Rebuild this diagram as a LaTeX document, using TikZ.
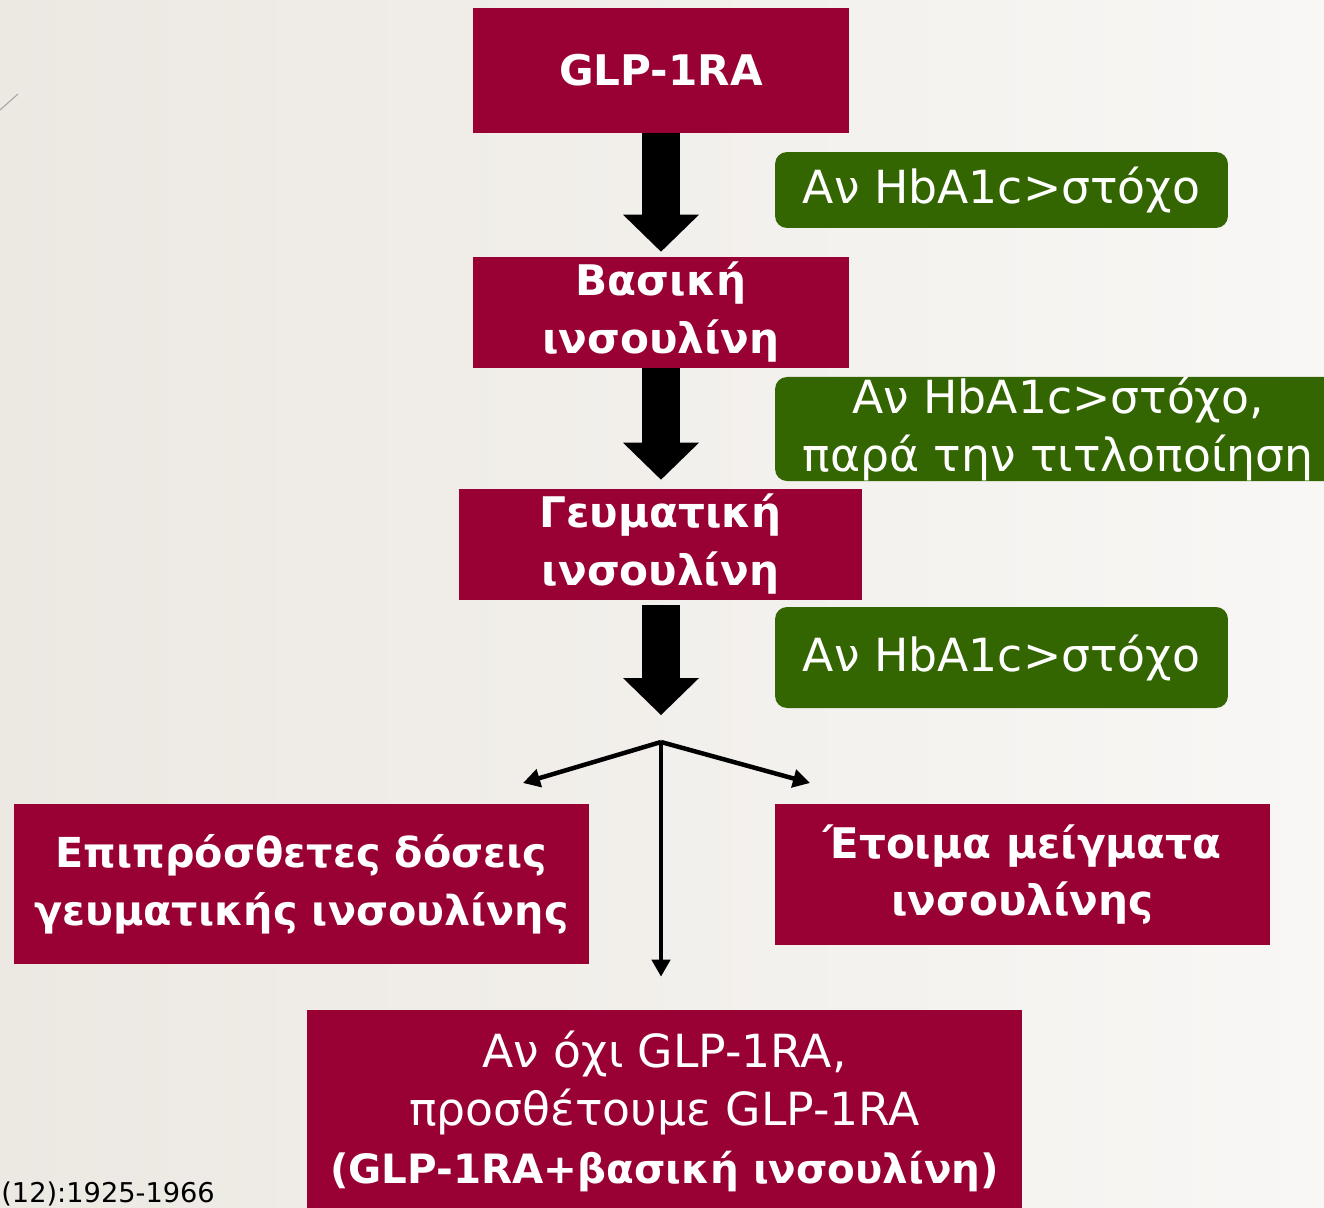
\documentclass[tikz,border=0pt]{standalone}
\usepackage{fontspec}
\setmainfont{DejaVu Sans}
\usetikzlibrary{arrows.meta}
\definecolor{wine}{HTML}{990033}
\definecolor{leaf}{HTML}{336600}
\definecolor{paperl}{HTML}{ECE8E2}
\definecolor{paperr}{HTML}{F8F7F5}

\begin{document}
\begin{tikzpicture}[x=0.02cm,y=-0.02cm,
    redbox/.style={fill=wine,text=white,align=center,inner sep=0pt,
      font=\bfseries\fontsize{24}{33}\selectfont},
    greenbox/.style={fill=leaf,text=white,align=center,inner sep=0pt,
      rounded corners=0.24cm,font=\fontsize{26}{33}\selectfont},
    fatarrow/.style={line width=0.76cm,
      -{Triangle[length=0.74cm,width=1.52cm,line width=0pt]}},
    thinarrow/.style={line width=0.09cm,
      -{Triangle[length=0.34cm,width=0.36cm]}}]
    \useasboundingbox (0,0) rectangle (1324,1207);
    \clip (0,0) rectangle (1324,1207);
    \shade[left color=paperl,right color=paperr] (0,0) rectangle (1324,1207);
    \draw[gray!70,line width=0.6pt] (0,110) -- (18,94);

    \node[redbox,minimum width=7.52cm,minimum height=2.5cm] (glp) at (661,70.5) {GLP-1RA};
    \node[redbox,minimum width=7.52cm,minimum height=2.22cm] (basal) at (661,312.5) {Βασική\\ινσουλίνη};
    \node[redbox,minimum width=8.06cm,minimum height=2.22cm] (meal) at (660.5,544.5) {Γευματική\\ινσουλίνη};
    \node[greenbox,minimum width=9.06cm,minimum height=1.52cm] (goal1) at (1001.5,190) {Αν HbA1c>στόχο};
    \node[greenbox,minimum width=11.32cm,minimum height=2.04cm] (goal2) at (1058,429) {Αν HbA1c>στόχο,\\παρά την τιτλοποίηση};
    \node[greenbox,minimum width=9.06cm,minimum height=2.02cm] (goal3) at (1001.5,657.5) {Αν HbA1c>στόχο};
    \node[redbox,font=\bfseries\fontsize{23.5}{33}\selectfont,minimum width=11.5cm,minimum height=3.2cm] (extra) at (301.5,884) {Επιπρόσθετες δόσεις\\γευματικής ινσουλίνης};
    \node[redbox,minimum width=9.9cm,minimum height=2.82cm] (premix) at (1022.5,874.5) {Έτοιμα μείγματα\\ινσουλίνης};
    \node[redbox,font=\fontsize{26}{33}\selectfont,minimum width=14.3cm,minimum height=4.04cm] (addglp) at (664.5,1111)
      {Αν όχι GLP-1RA,\\προσθέτουμε GLP-1RA\\\textbf{\fontsize{23}{33}\selectfont(GLP-1RA+βασική ινσουλίνη)}};
    \node[anchor=base west,inner sep=0pt,font=\fontsize{15.5}{16}\selectfont] (cite) at (1,1202) {(12):1925-1966};

    \coordinate (split) at (661,742);
    \coordinate (leftend) at (523,783);
    \coordinate (rightend) at (810,783);

    \draw[fatarrow,shorten >=0.1cm] (glp.south) -- (basal.north);
    \draw[fatarrow,shorten >=0.18cm] (basal.south) -- (basal.south |- meal.north);
    \draw[fatarrow,shorten <=0.1cm,shorten >=0.54cm] (meal.south -| split) -- (split);
    \draw[thinarrow] (split) -- (leftend);
    \draw[thinarrow] (split) -- (rightend);
    \draw[thinarrow,shorten >=0.66cm] (split) -- (split |- addglp.north);
\end{tikzpicture}
\end{document}
